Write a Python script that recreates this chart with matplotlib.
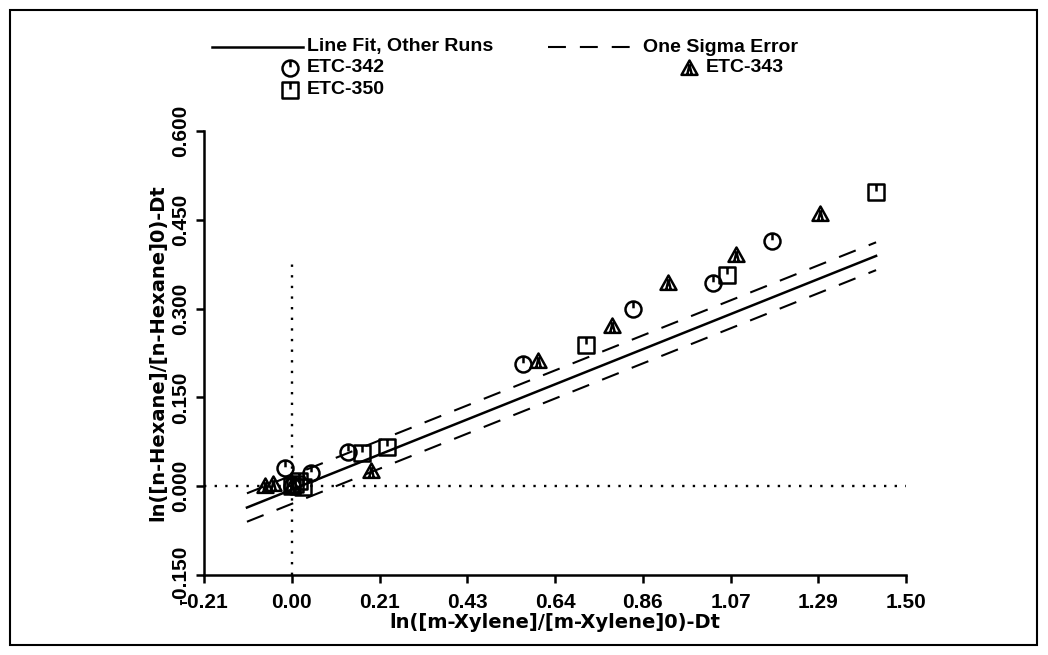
import numpy as np
import matplotlib
matplotlib.use("Agg")
import matplotlib.pyplot as plt
from matplotlib.path import Path
from matplotlib.patches import Rectangle

plt.rcParams['font.family'] = ['Liberation Sans', 'DejaVu Sans']
plt.rcParams['font.weight'] = 'bold'

# data
x_342 = [0.0, -0.016, 0.047, 0.137, 0.565, 0.834, 1.028, 1.172]
y_342 = [0.0, 0.031, 0.022, 0.058, 0.206, 0.299, 0.344, 0.415]

x_343 = [0.0, -0.065, -0.046, 0.193, 0.601, 0.782, 0.918, 1.085, 1.290]
y_343 = [0.0, 0.000, 0.003, 0.025, 0.211, 0.270, 0.344, 0.391, 0.460]

x_350 = [0.0, 0.008, 0.018, 0.028, 0.171, 0.232, 0.719, 1.064, 1.426]
y_350 = [0.0, 0.003, 0.008, -0.002, 0.056, 0.067, 0.238, 0.357, 0.497]

x_fit = [-0.109, 1.427]
y_fit = [-0.036, 0.389]
y_upper = [-0.012, 0.412]
y_lower = [-0.060, 0.365]

x_ticklabels = ['-0.21', '0.00', '0.21', '0.43', '0.64', '0.86', '1.07', '1.29', '1.50']
y_ticklabels = ['-0.150', '0.000', '0.150', '0.300', '0.450', '0.600']
x_min, x_max = -0.21375, 1.5
y_min, y_max = -0.15, 0.6
vline_top = 0.38

# SAS-like symbols
def marker_with_tick(outline):
    tick = Path([[0, 1], [0, 0.15]], [Path.MOVETO, Path.LINETO])
    return Path.make_compound_path(outline, tick)

circ = marker_with_tick(Path.unit_circle())
sq = marker_with_tick(Path([[-1, -1], [1, -1], [1, 1], [-1, 1], [-1, -1]],
                           [Path.MOVETO, Path.LINETO, Path.LINETO, Path.LINETO, Path.CLOSEPOLY]))
tri = Path.make_compound_path(
    Path([[-1, -0.8], [1, -0.8], [0, 1], [-1, -0.8]],
         [Path.MOVETO, Path.LINETO, Path.LINETO, Path.CLOSEPOLY]),
    Path([[-0.3, -0.8], [0, 0.4], [0.3, -0.8]], [Path.MOVETO, Path.LINETO, Path.LINETO]))

mk = dict(linestyle='none', markerfacecolor='none', markeredgecolor='black',
          markeredgewidth=1.8, markersize=11.5)
dash = (0, (8.6, 6.7))
dot = (0, (1, 3.5))
label_font = dict(fontsize=14, fontweight='bold', family=['DejaVu Sans'])

fig = plt.figure(figsize=(10.48, 6.55), dpi=100)
ax = fig.add_axes([0.1947, 0.1221, 0.6698, 0.6779])

ax.plot([x_min, x_max], [0, 0], color='black', lw=1.7, linestyle=dot)
ax.plot([0, 0], [y_min, vline_top], color='black', lw=1.7, linestyle=dot)

ax.plot(x_fit, y_fit, color='black', lw=1.8)
ax.plot(x_fit, y_upper, color='black', lw=1.5, linestyle=dash)
ax.plot(x_fit, y_lower, color='black', lw=1.5, linestyle=dash)

ax.plot(x_342, y_342, marker=circ, **mk)
ax.plot(x_343, y_343, marker=tri, **mk)
ax.plot(x_350, y_350, marker=sq, **mk)

ax.set_xlim(x_min, x_max)
ax.set_ylim(y_min, y_max)
ax.set_xticks(np.linspace(x_min, x_max, len(x_ticklabels)))
ax.set_xticklabels(x_ticklabels)
ax.set_yticks(np.linspace(y_min, y_max, len(y_ticklabels)))
ax.set_yticklabels(y_ticklabels, rotation=90, va='center')
for side in ['top', 'right']:
    ax.spines[side].set_visible(False)
for side in ['left', 'bottom']:
    ax.spines[side].set_linewidth(1.8)
ax.tick_params(direction='out', length=6, width=1.8, labelsize=15)
ax.tick_params(axis='x', pad=7)
ax.tick_params(axis='y', pad=4)
ax.set_xlabel('ln([m-Xylene]/[m-Xylene]0)-Dt', labelpad=1, **label_font)
ax.set_ylabel('ln([n-Hexane]/[n-Hexane]0)-Dt', labelpad=3, **label_font)

# legend drawn in pixel space
lax = fig.add_axes([0, 0, 1, 1], zorder=5)
lax.set_xlim(0, 1048)
lax.set_ylim(655, 0)
lax.axis('off')
lax.add_patch(Rectangle((10, 10), 1027, 635, fill=False, lw=1.5, edgecolor='black'))
tk = dict(fontsize=14, fontweight='bold', va='center', ha='left')
lax.plot([212, 303], [47, 47], color='black', lw=1.8)
lax.text(307, 47, 'Line Fit, Other Runs', **tk)
lax.plot([548, 632], [47, 47], color='black', lw=1.5, linestyle=dash)
lax.text(643, 47, 'One Sigma Error', **tk)
lax.plot([290], [68], marker=circ, **mk)
lax.text(307, 68, 'ETC-342', **tk)
lax.plot([689], [68], marker=tri, **mk)
lax.text(706, 68, 'ETC-343', **tk)
lax.plot([290], [90], marker=sq, **mk)
lax.text(307, 90, 'ETC-350', **tk)

fig.savefig('out.png', dpi=100)
